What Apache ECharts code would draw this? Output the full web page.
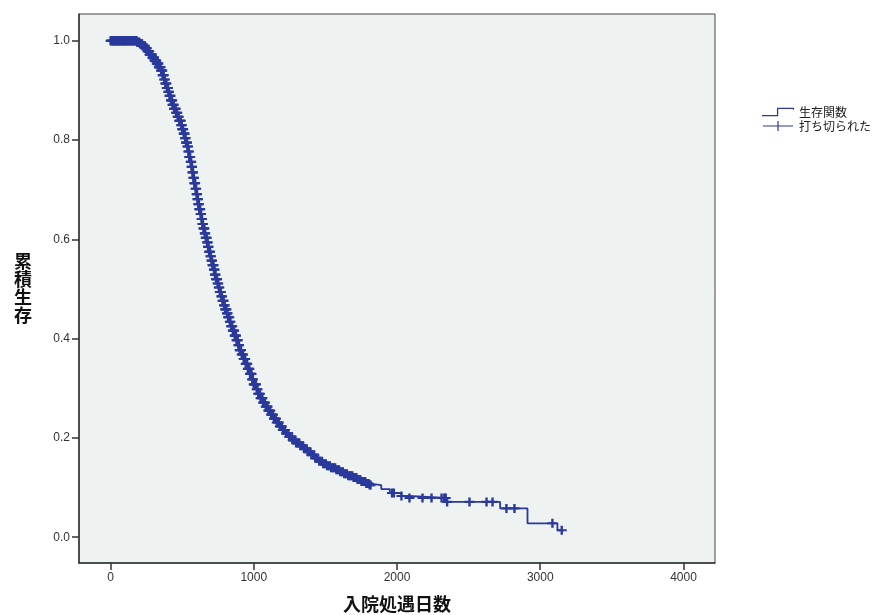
<!DOCTYPE html>
<html><head><meta charset="utf-8">
<script src="https://cdn.jsdelivr.net/npm/echarts@6/dist/echarts.min.js"></script>
<style>html,body{margin:0;padding:0;background:#fff}#c{width:895px;height:615px}</style>
</head><body><div id="c"></div>
<script>
// Kaplan-Meier survival estimate: [days, cumulative survival]
const survivalSteps = [
 [0,1.0],[185,0.997],[205,0.994],[222,0.99],[240,0.985],[256,0.979],[272,0.972],[290,0.966],[306,0.96],[322,0.954],
 [338,0.947],[352,0.94],[362,0.931],[372,0.922],[382,0.914],[392,0.905],[402,0.897],[412,0.889],[422,0.88],[433,0.871],
 [444,0.863],[456,0.855],[468,0.847],[480,0.839],[491,0.83],[500,0.822],[509,0.813],[518,0.804],[527,0.795],[536,0.787],
 [543,0.777],[550,0.766],[557,0.756],[564,0.746],[571,0.735],[578,0.724],[585,0.713],[592,0.702],[599,0.691],[606,0.681],
 [613,0.671],[620,0.661],[627,0.651],[634,0.641],[641,0.631],[648,0.622],[656,0.612],[664,0.603],[672,0.594],[680,0.585],
 [688,0.575],[696,0.566],[704,0.557],[712,0.548],[720,0.539],[729,0.529],[737,0.52],[745,0.511],[753,0.503],[762,0.494],
 [771,0.485],[780,0.476],[790,0.467],[800,0.459],[810,0.451],[820,0.443],[831,0.434],[842,0.425],[853,0.416],[865,0.406],
 [877,0.397],[889,0.387],[901,0.377],[914,0.368],[927,0.359],[941,0.349],[955,0.339],[970,0.329],[985,0.318],[1000,0.308],
 [1016,0.298],[1031,0.289],[1046,0.28],[1062,0.271],[1080,0.263],[1098,0.255],[1117,0.247],[1136,0.239],[1156,0.231],[1177,0.223],
 [1198,0.216],[1220,0.209],[1242,0.202],[1268,0.196],[1294,0.19],[1320,0.184],[1347,0.178],[1374,0.172],[1402,0.166],[1428,0.159],
 [1456,0.153],[1484,0.148],[1512,0.144],[1540,0.14],[1570,0.136],[1600,0.132],[1630,0.128],[1660,0.124],[1690,0.12],[1720,0.116],
 [1750,0.112],[1780,0.108],[1808,0.105],[1890,0.097],[1950,0.089],[2030,0.083],[2080,0.079],[2345,0.071],[2720,0.058],[2911,0.028],
 [3120,0.014],[3150,0.014]
];
// censored observation times (days)
const censoredDays = [
 1,4,8,12,15,18,21,24,27,30,33,37,40,43,46,49,52,55,58,61,63,66,70,73,77,80,84,87,90,93,96,99,103,106,110,114,118,121,125,128,131,135,138,142,146,149,153,156,160,164,168,171,175,178,
 182,186,190,194,197,201,205,209,212,216,220,224,227,231,235,239,243,247,250,253,258,262,266,270,273,277,281,285,289,293,297,301,304,308,312,316,319,323,327,331,334,338,342,346,349,353,357,361,364,368,371,375,379,383,386,390,393,397,401,404,408,412,415,419,422,426,430,433,437,441,444,448,451,455,458,462,466,469,472,476,480,483,487,490,494,497,
 501,504,507,511,514,517,521,524,527,531,534,537,541,544,547,550,553,556,560,563,566,569,572,576,579,582,585,588,591,594,598,601,604,607,610,613,617,620,623,626,629,632,636,639,642,645,649,652,655,658,661,665,668,671,675,678,681,684,688,691,695,698,701,705,708,712,715,719,722,726,729,733,737,741,744,748,752,756,759,763,767,770,774,778,782,786,789,793,797,801,805,809,813,817,821,825,829,833,837,842,846,850,854,858,863,867,871,876,880,884,888,893,897,
 902,906,911,916,921,925,930,935,940,944,949,954,959,964,969,974,979,984,989,994,1000,1005,1010,1015,1021,1026,1031,1037,1043,1048,1054,1060,1066,1072,1078,1084,1090,1096,1102,1108,1115,1121,1128,1134,1141,1148,1155,1161,1168,1175,1182,1189,1196,1203,1211,1218,1226,1233,1241,1248,1256,1264,1272,1280,1288,1296,
 1304,1311,1318,1326,1335,1343,1352,1360,1368,1377,1386,1394,1403,1412,1421,1430,1440,1449,1458,1467,1476,1485,1495,1503,1512,1521,1531,1540,1549,1558,1568,1577,1586,1595,1604,1613,1622,1631,1640,1650,1660,1669,1678,1688,1697,1706,1716,1725,1735,1743,1752,1761,1770,1778,1786,1794,1802,1809,1815,
 1965,1978,2031,2087,2178,2241,2311,2330,2340,2350,2506,2625,2667,2764,2820,3085,3150
];
const xTicks = [0,1000,2000,3000,4000];
const yTicks = [0,0.2,0.4,0.6,0.8,1.0];
const seriesNames = ['生存関数','打ち切られた'];

function survivalAt(t){
  let s = survivalSteps[0][1];
  for (const [d,v] of survivalSteps){ if (d<=t) s=v; else break; }
  return s;
}
const censoredPoints = censoredDays.map(d=>[d, survivalAt(d)]);

const blue = '#2a399c';
const plus = 'path://M0,3.8 L10,3.8 L10,6.2 L0,6.2 Z M3.8,0 L6.2,0 L6.2,10 L3.8,10 Z';
const latin = '"Liberation Sans", Arial, sans-serif';
const cjk = '"Noto Sans CJK JP", sans-serif';

const chart = echarts.init(document.getElementById('c'));
chart.setOption({
  animation:false,
  backgroundColor:'#ffffff',
  grid:{left:79, top:14, right:180, bottom:52, outerBoundsMode:'none', containLabel:false,
        show:true, backgroundColor:'#eef2f1', borderColor:'#444', borderWidth:1},
  legend:{
    orient:'vertical', left:762, top:105, padding:0, itemWidth:32, itemHeight:10, itemGap:0,
    textStyle:{fontFamily:cjk, fontSize:12, color:'#222', lineHeight:14},
    data:[
      {name:seriesNames[0], icon:'path://M0,8 L14,8 L14,1 L30,1 L30,3 L29,3 L29,2.2 L15.2,2.2 L15.2,9.2 L0,9.2 Z'},
      {name:seriesNames[1], icon:'path://M0,4.4 L30,4.4 L30,5.6 L0,5.6 Z M14.4,0 L15.6,0 L15.6,10 L14.4,10 Z'}
    ]
  },
  xAxis:{
    type:'value', min:-220, max:4220,
    name:'入院処遇日数', nameLocation:'middle', nameGap:32,
    nameTextStyle:{fontFamily:cjk, fontSize:18, fontWeight:'bold', color:'#111'},
    axisLine:{show:true, onZero:false, lineStyle:{color:'#333', width:1.5}},
    axisTick:{show:true, length:7, lineStyle:{color:'#333', width:1.5}, customValues:xTicks},
    axisLabel:{customValues:xTicks, fontFamily:latin, fontSize:12, color:'#333', margin:9, formatter:v=>String(v)},
    splitLine:{show:false}
  },
  yAxis:{
    type:'value', min:-0.052, max:1.054,
    name:'累\n積\n生\n存', nameLocation:'middle', nameGap:47, nameRotate:0,
    nameTextStyle:{fontFamily:cjk, fontSize:18, fontWeight:'bold', color:'#111', lineHeight:18},
    axisLine:{show:true, onZero:false, lineStyle:{color:'#333', width:1.5}},
    axisTick:{show:true, length:7, lineStyle:{color:'#333', width:1.5}, customValues:yTicks},
    axisLabel:{customValues:yTicks, fontFamily:latin, fontSize:12, color:'#333', margin:9, formatter:v=>v.toFixed(1)},
    splitLine:{show:false}
  },
  series:[
    {name:seriesNames[0], type:'line', step:'end', data:survivalSteps, showSymbol:false, symbol:'none',
     lineStyle:{color:blue, width:1.8}, itemStyle:{color:blue}, z:2},
    {name:seriesNames[1], type:'scatter', data:censoredPoints, symbol:plus, symbolSize:[10,9],
     itemStyle:{color:blue, opacity:1}, z:3}
  ]
});
</script></body></html>
